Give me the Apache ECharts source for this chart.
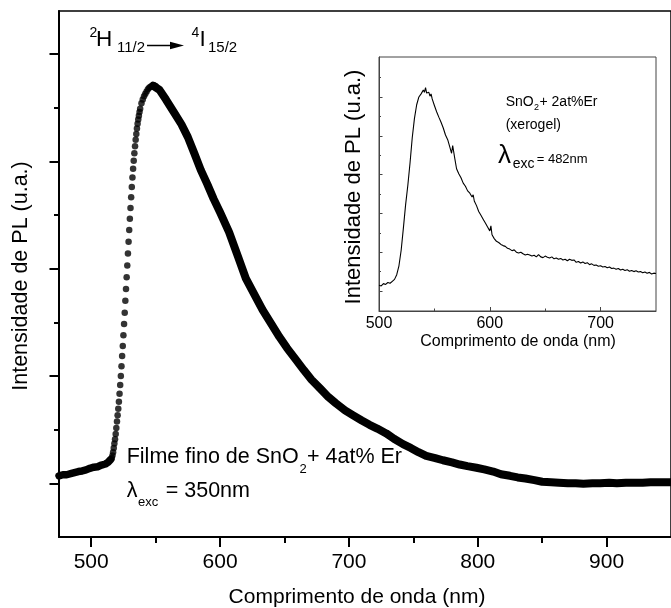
<!DOCTYPE html>
<html>
<head>
<meta charset="utf-8">
<script src="https://cdn.jsdelivr.net/npm/echarts@6/dist/echarts.min.js"></script>
<style>
html,body{margin:0;padding:0;background:#fff;}
#chart{width:671px;height:608px;}
</style>
</head>
<body>
<div id="chart"></div>
<script>
// ---- Main spectrum: SnO2 + 4at% Er thin film (arbitrary units) ----
var baseX = [475,478,481,484,487,490,493,496,499,502,505,508,511,513,515];
var baseY = [1.14,1.16,1.16,1.18,1.20,1.22,1.23,1.25,1.28,1.30,1.31,1.34,1.36,1.39,1.44];

var riseX = [516,516.5,517,517.5,518,518.5,519,519.5,520,520.5,521,521.5,522,522.5,523,523.5,524,524.5,525,525.5,526,526.5,527,527.5,528,528.5,529,529.5,530,530.5,531,531.5,532,532.5,533,533.5,534,534.5,535,535.5,536,536.5,537,537.5,538,539,540,541,542,543,544,545,546,547,548,549,550];
var riseY = [1.47,1.52,1.58,1.66,1.74,1.82,1.92,2.03,2.15,2.27,2.39,2.52,2.67,2.83,3.00,3.18,3.37,3.56,3.76,3.97,4.18,4.40,4.62,4.84,5.06,5.28,5.50,5.72,5.93,6.13,6.33,6.52,6.70,6.86,7.01,7.15,7.28,7.40,7.51,7.61,7.70,7.78,7.85,7.92,7.98,8.08,8.15,8.21,8.26,8.30,8.34,8.37,8.39,8.40,8.41,8.41,8.40];

var decayX = [548,553,558,564,570,575,580,585,590,595,600,607,614,620,627,633,640,646,652,659,665,671,678,684,690,697,703,710,716,722,729,735,742,748,754,760,767,773,780,786,792,799,805,812,818,825,831,837,844,850,857,863,870,876,882,889,895,902,908,915,921,928,934,941,950];
var decayY = [8.41,8.33,8.15,7.92,7.69,7.45,7.15,6.84,6.58,6.30,6.05,5.68,5.22,4.82,4.50,4.23,3.96,3.73,3.52,3.30,3.11,2.93,2.76,2.61,2.49,2.36,2.27,2.17,2.09,2.02,1.93,1.83,1.73,1.66,1.58,1.51,1.47,1.43,1.39,1.35,1.32,1.29,1.26,1.22,1.17,1.14,1.11,1.09,1.06,1.03,1.02,1.01,1.00,1.00,0.99,1.00,1.00,1.01,1.00,1.01,1.01,1.01,1.02,1.02,1.02];

// ---- Inset spectrum: SnO2 + 2at%Er xerogel ----
var insetX = [500,502,504,506,508,510,512,514,516,518,520,522,524,526,528,530,532,534,536,538,540,541,542,543,544,545,546,547,548,550,552,554,556,558,560,562,564,565.5,566.5,567.5,568.5,570,572,574,576,578,580,582,584,585,586,588,590,592,594,596,598,600,601,602,604,605,606,608,610,612,614,616,618,620,622,624,626,628,630,632,634,636,638,640,642,644,646,648,650,652,654,656,658,660,662,664,666,668,670,672,674,676,678,680,682,684,686,688,690,692,694,696,698,700,702,704,706,708,710,712,714,716,718,720,722,724,726,728,730,732,734,736,738,740,742,744,746,748,750];
var insetY = [1.15,1.13,1.19,1.17,1.22,1.20,1.25,1.30,1.42,1.65,2.05,2.62,3.22,3.72,4.30,4.95,5.45,5.80,6.00,6.08,6.18,6.12,6.24,6.10,6.05,6.12,6.02,6.08,5.95,5.78,5.62,5.48,5.35,5.20,5.02,4.90,4.70,4.55,4.75,4.80,4.40,4.15,4.02,3.92,3.78,3.70,3.58,3.52,3.42,3.48,3.32,3.20,3.05,2.95,2.85,2.75,2.65,2.55,2.68,2.45,2.35,2.40,2.28,2.25,2.20,2.17,2.15,2.10,2.08,2.04,2.06,2.00,1.98,2.00,1.96,1.93,1.95,1.93,1.90,1.92,1.88,1.94,1.88,1.86,1.90,1.87,1.85,1.88,1.83,1.85,1.82,1.84,1.80,1.82,1.78,1.82,1.79,1.80,1.74,1.76,1.72,1.75,1.71,1.73,1.68,1.70,1.66,1.67,1.64,1.65,1.62,1.63,1.60,1.62,1.58,1.59,1.56,1.58,1.54,1.56,1.53,1.55,1.51,1.53,1.50,1.52,1.49,1.50,1.47,1.49,1.46,1.48,1.44,1.46,1.45];

// ---- Tick values ----
var mainXMajor = [500,600,700,800,900];
var mainXMinor = [550,650,750,850];
var mainYMajor = [1,3,5,7,9];
var mainYMinor = [2,4,6,8];
var insetXMajor = [500,600,700];
var insetXMinor = [550,650];
var insetYMajor = [1,2,3,4,5,6];
var insetYMinor = [1.5,2.5,3.5,4.5,5.5,6.5];

function zip(a,b){ var r=[]; for(var i=0;i<a.length;i++) r.push([a[i],b[i]]); return r; }

var FF = '"Liberation Sans", Arial, Helvetica, sans-serif';
var chart = echarts.init(document.getElementById('chart'), null, {renderer:'canvas'});

function txt(x, y, text, size, align, extra){
  var o = {type:'text', x:x, y:y, z:100,
    style:{text:text, fontSize:size, fontFamily:FF, fill:'#000', textAlign:align||'left', textVerticalAlign:'middle'}};
  if (extra) for (var k in extra) o[k]=extra[k];
  return o;
}

var hidden = {show:false};
var option = {
  animation:false,
  backgroundColor:'#fff',
  grid:[
    {left:59, top:11, right:-10, bottom:71, show:true, borderColor:'#000', borderWidth:1.5, backgroundColor:'transparent'},
    {left:379, top:57, width:277, height:254, show:true, borderColor:'#444', borderWidth:1, backgroundColor:'#fff', z:5}
  ],
  xAxis:[
    {type:'value', gridIndex:0, min:475, max:950, position:'bottom',
     axisLine:{show:true, lineStyle:{color:'#000', width:2}},
     axisTick:{show:true, customValues:mainXMajor, length:10, inside:false, lineStyle:{color:'#000', width:2}},
     axisLabel:{show:true, customValues:mainXMajor, fontSize:21, fontFamily:FF, color:'#000', margin:15},
     splitLine:hidden},
    {type:'value', gridIndex:0, min:475, max:950, position:'bottom',
     axisLine:hidden,
     axisTick:{show:true, customValues:mainXMinor, length:6, inside:false, lineStyle:{color:'#000', width:2}},
     axisLabel:hidden, splitLine:hidden},
    {type:'value', gridIndex:1, min:500, max:750, position:'bottom',
     axisLine:{show:true, lineStyle:{color:'#444', width:1}},
     axisTick:{show:true, customValues:insetXMajor, length:4, inside:true, lineStyle:{color:'#444', width:1}},
     axisLabel:{show:true, customValues:insetXMajor, fontSize:16, fontFamily:FF, color:'#000', margin:5},
     splitLine:hidden, z:6},
    {type:'value', gridIndex:1, min:500, max:750, position:'bottom',
     axisLine:hidden,
     axisTick:{show:true, customValues:insetXMinor, length:2.5, inside:true, lineStyle:{color:'#444', width:1}},
     axisLabel:hidden, splitLine:hidden, z:6}
  ],
  yAxis:[
    {type:'value', gridIndex:0, min:0, max:9.8, position:'left',
     axisLine:{show:true, lineStyle:{color:'#000', width:2}},
     axisTick:{show:true, customValues:mainYMajor, length:9.5, inside:false, lineStyle:{color:'#000', width:2}},
     axisLabel:hidden, splitLine:hidden},
    {type:'value', gridIndex:0, min:0, max:9.8, position:'left',
     axisLine:hidden,
     axisTick:{show:true, customValues:mainYMinor, length:5, inside:false, lineStyle:{color:'#000', width:2}},
     axisLabel:hidden, splitLine:hidden},
    {type:'value', gridIndex:1, min:0.485, max:7.03, position:'left',
     axisLine:{show:true, lineStyle:{color:'#444', width:1}},
     axisTick:{show:true, customValues:insetYMajor, length:3.5, inside:true, lineStyle:{color:'#444', width:1}},
     axisLabel:hidden, splitLine:hidden, z:6},
    {type:'value', gridIndex:1, min:0.485, max:7.03, position:'left',
     axisLine:hidden,
     axisTick:{show:true, customValues:insetYMinor, length:2, inside:true, lineStyle:{color:'#444', width:1}},
     axisLabel:hidden, splitLine:hidden, z:6}
  ],
  series:[
    {type:'line', xAxisIndex:0, yAxisIndex:0, data:zip(baseX, baseY), symbol:'none',
     lineStyle:{color:'#000', width:7.5, cap:'round', join:'round'}, z:3},
    {type:'scatter', xAxisIndex:0, yAxisIndex:0, data:zip(riseX, riseY), symbol:'circle', symbolSize:6.5,
     itemStyle:{color:'#000'}, z:3},
    {type:'line', xAxisIndex:0, yAxisIndex:0, data:zip(decayX, decayY), symbol:'none',
     lineStyle:{color:'#000', width:8, cap:'round', join:'round'}, z:3},
    {type:'line', xAxisIndex:2, yAxisIndex:2, data:zip(insetX, insetY), symbol:'none',
     lineStyle:{color:'#000', width:1.1}, z:7}
  ],
  graphic:[
    // main axis titles
    txt(357, 597, 'Comprimento de onda (nm)', 21, 'center'),
    txt(21, 276, 'Intensidade de PL (u.a.)', 21.5, 'center', {rotation:Math.PI/2}),
    // transition label
    txt(89.5, 33, '2', 14),
    txt(96, 39.5, 'H', 22.5),
    txt(117, 48, '11/2', 15),
    {type:'line', z:100, shape:{x1:147, y1:45.5, x2:172, y2:45.5}, style:{stroke:'#000', lineWidth:1.5}},
    {type:'polygon', z:100, shape:{points:[[170,41.8],[184,45.5],[170,49.2]]}, style:{fill:'#000'}},
    txt(191.5, 33, '4', 14),
    txt(199.5, 39.5, 'I', 22.5),
    txt(208, 48, '15/2', 15),
    // film annotation
    txt(126.7, 457, 'Filme fino de SnO', 21.5),
    txt(299.5, 469, '2', 13),
    txt(307, 457, '+ 4at% Er', 21.5),
    txt(126.7, 491, '\u03bb', 21.5),
    txt(138, 502, 'exc', 13),
    txt(165.7, 491, '= 350nm', 21.5),
    // inset texts
    txt(518, 342, 'Comprimento de onda (nm)', 16, 'center'),
    txt(354, 187, 'Intensidade de PL (u.a.)', 22, 'center', {rotation:Math.PI/2}),
    txt(505.7, 102, 'SnO', 14),
    txt(534, 108, '2', 9),
    txt(539.5, 102, '+ 2at%Er', 14),
    txt(505.7, 125, '(xerogel)', 14),
    txt(498, 156, '\u03bb', 26),
    txt(512.7, 164, 'exc', 14),
    txt(536.7, 159, '= 482nm', 13)
  ]
};
chart.setOption(option);
</script>
</body>
</html>
